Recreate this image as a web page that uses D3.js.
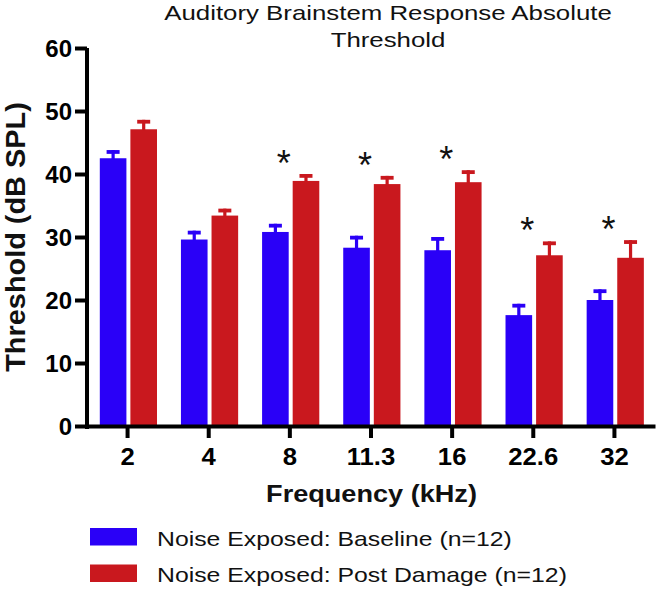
<!DOCTYPE html>
<html>
<head>
<meta charset="utf-8">
<script src="https://cdn.jsdelivr.net/npm/d3@7"></script>
<style>
  html, body { margin: 0; padding: 0; background: #ffffff; }
  svg { display: block; font-family: "Liberation Sans", Arial, sans-serif; }
</style>
</head>
<body>
<svg id="chart" width="661" height="590"></svg>
<script>
// ---- data ----
const categories = ["2", "4", "8", "11.3", "16", "22.6", "32"];
const seriesNames = ["Noise Exposed: Baseline (n=12)", "Noise Exposed: Post Damage (n=12)"];
const baselineMean = [42.5, 29.6, 30.8, 28.3, 27.9, 17.6, 20.0];
const baselineErr  = [1.3, 1.4, 1.3, 1.9, 2.1, 1.8, 1.7];
const postMean     = [47.1, 33.4, 38.9, 38.4, 38.7, 27.1, 26.7];
const postErr      = [1.5, 1.1, 1.1, 1.3, 1.9, 2.2, 2.8];
const significant  = [false, false, true, true, true, true, true];
const yTicks = [0, 10, 20, 30, 40, 50, 60];
const colors = ["#2a00f7", "#c9181e"];

const titleLines = ["Auditory Brainstem Response Absolute", "Threshold"];
const yTitle = "Threshold (dB SPL)";
const xTitle = "Frequency (kHz)";

// ---- layout ----
const svg = d3.select("#chart");
const x0 = 87, x1 = 655, yTop = 48, yBottom = 426;

const x = d3.scaleBand().domain(categories).range([x0, x1]).paddingInner(0).paddingOuter(0);
const xs = d3.scaleBand().domain([0, 1]).range([12.8, 70]).paddingInner(0.13).paddingOuter(0);
const y = d3.scaleLinear().domain([0, 60]).range([yBottom, yTop]);

const rows = categories.map((c, i) => ({
  cat: c,
  sig: significant[i],
  vals: [
    { s: 0, mean: baselineMean[i], err: baselineErr[i] },
    { s: 1, mean: postMean[i], err: postErr[i] }
  ]
}));

// bars
const groups = svg.append("g").selectAll("g").data(rows).join("g")
  .attr("transform", d => `translate(${x(d.cat)},0)`);

groups.selectAll("rect.bar").data(d => d.vals).join("rect")
  .attr("class", "bar")
  .attr("x", d => xs(d.s))
  .attr("width", xs.bandwidth())
  .attr("y", d => y(d.mean))
  .attr("height", d => y(0) - y(d.mean))
  .attr("fill", d => colors[d.s]);

// error bars: stem + cap
groups.selectAll("rect.stem").data(d => d.vals).join("rect")
  .attr("class", "stem")
  .attr("x", d => xs(d.s) + xs.bandwidth() / 2 - 1.6)
  .attr("width", 3.2)
  .attr("y", d => y(d.mean + d.err))
  .attr("height", d => y(d.mean) - y(d.mean + d.err) + 1)
  .attr("fill", d => colors[d.s]);

groups.selectAll("rect.cap").data(d => d.vals).join("rect")
  .attr("class", "cap")
  .attr("x", d => xs(d.s) + xs.bandwidth() / 2 - 6.5)
  .attr("width", 13)
  .attr("y", d => y(d.mean + d.err))
  .attr("height", 3.8)
  .attr("fill", d => colors[d.s]);

// significance stars
groups.filter(d => d.sig).append("text")
  .attr("x", x.bandwidth() / 2 - 6)
  .attr("y", d => y(d.vals[1].mean + d.vals[1].err) - 18 + 20)
  .attr("text-anchor", "middle")
  .attr("font-size", 36)
  .attr("fill", "#111")
  .text("*");

// y axis
const yAxis = svg.append("g")
  .attr("transform", `translate(${x0},0)`)
  .call(d3.axisLeft(y).tickValues(yTicks).tickSize(12).tickSizeOuter(0).tickPadding(3));
yAxis.select(".domain").attr("stroke", "#000").attr("stroke-width", 4)
  .attr("d", `M0,${yTop}V${yBottom + 3}`);
yAxis.selectAll(".tick line").attr("stroke", "#000").attr("stroke-width", 4);
yAxis.selectAll(".tick text")
  .attr("font-family", "'Liberation Sans', Arial, sans-serif")
  .attr("font-size", 24).attr("font-weight", "bold").attr("fill", "#000")
  .attr("dy", null).attr("y", 8.6);

// x axis
const xAxis = svg.append("g")
  .attr("transform", `translate(0,${yBottom})`)
  .call(d3.axisBottom(x).tickSize(12).tickSizeOuter(0).tickPadding(0));
xAxis.select(".domain").attr("stroke", "#000").attr("stroke-width", 4);
xAxis.selectAll(".tick line").attr("stroke", "#000").attr("stroke-width", 4);
xAxis.selectAll(".tick text")
  .attr("font-family", "'Liberation Sans', Arial, sans-serif")
  .attr("font-size", 24).attr("font-weight", "bold").attr("fill", "#000")
  .attr("dy", null).attr("y", 39)
  .attr("transform", "scale(1.07,1)");

// title
const title = svg.append("g").attr("transform", "translate(388,0)");
titleLines.forEach((t, i) => {
  title.append("g").attr("transform", `translate(0,${20 + i * 27}) scale(1.23,1)`)
    .append("text").attr("text-anchor", "middle").attr("font-size", 21).attr("fill", "#111").text(t);
});

// axis titles
svg.append("g").attr("transform", "translate(371.5,502) scale(1.13,1)")
  .append("text").attr("text-anchor", "middle").attr("font-size", 24).attr("font-weight", "bold")
  .attr("fill", "#111").text(xTitle);

svg.append("g").attr("transform", "translate(25,237) rotate(-90) scale(1.07,1)")
  .append("text").attr("text-anchor", "middle").attr("font-size", 27).attr("font-weight", "bold")
  .attr("fill", "#111").text(yTitle);

// legend
const legend = svg.append("g").selectAll("g").data(seriesNames).join("g")
  .attr("transform", (d, i) => `translate(90,${528 + i * 36.5})`);
legend.append("rect").attr("x", 0).attr("y", 0).attr("width", 47).attr("height", 17.5)
  .attr("fill", (d, i) => colors[i]);
legend.append("g").attr("transform", "translate(67,17.5) scale(1.24,1)")
  .append("text").attr("font-size", 20).attr("fill", "#111").text(d => d);
</script>
</body>
</html>
